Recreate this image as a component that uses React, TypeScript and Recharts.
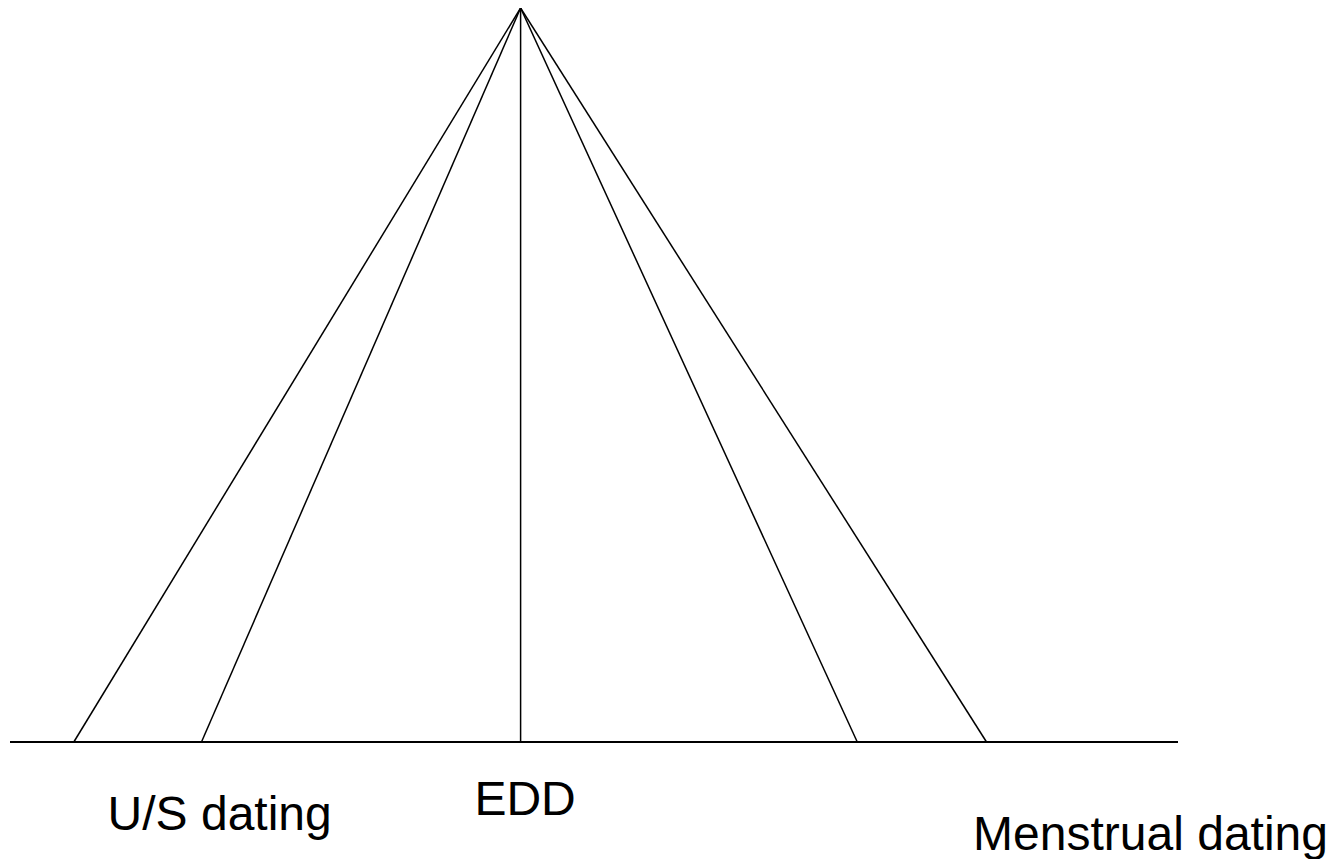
import React from "react";
import { ComposedChart, Line, XAxis, YAxis } from "recharts";

// Days relative to the estimated date of delivery (EDD)
const apex = { x: 0, y: 1 };
const baseDays = [-14, -10, 0, 10.55, 14.6];
const seriesNames = ["usOuter", "usInner", "edd", "menstrualInner", "menstrualOuter"];

// Axis labels
const tickValues = [-9.43, 0.14, 19.74];
const tickLabels = ["U/S dating", "EDD", "Menstrual dating"];

const xDomain: [number, number] = [-16, 20.6];

const lines = seriesNames.map((name, i) => ({
  name,
  data: [
    { x: baseDays[i], y: 0 },
    { x: apex.x, y: apex.y },
  ],
}));

const labelDy = [88, 73, 108];

const Tick = (props: any) => {
  const { x, y, index } = props;
  return (
    <text
      x={x}
      y={y + labelDy[index]}
      textAnchor="middle"
      fontFamily="'Liberation Sans', Arial, sans-serif"
      fontSize={48}
      fill="#000"
    >
      {tickLabels[index]}
    </text>
  );
};

export default function App() {
  return (
    <ComposedChart
      width={1330}
      height={851}
      margin={{ top: 0, right: 160, bottom: 0, left: 2 }}
    >
      <XAxis
        type="number"
        dataKey="x"
        domain={xDomain}
        allowDataOverflow
        ticks={tickValues}
        tick={<Tick />}
        tickLine={false}
        tickSize={0}
        tickMargin={0}
        height={117}
        axisLine={{ stroke: "#000", strokeWidth: 2 }}
        interval={0}
      />
      <YAxis type="number" dataKey="y" domain={[0, 1]} hide />
      {lines.map((l) => (
        <Line
          key={l.name}
          data={l.data}
          dataKey="y"
          type="linear"
          stroke="#000"
          strokeWidth={1.5}
          dot={false}
          activeDot={false}
          isAnimationActive={false}
        />
      ))}
    </ComposedChart>
  );
}
